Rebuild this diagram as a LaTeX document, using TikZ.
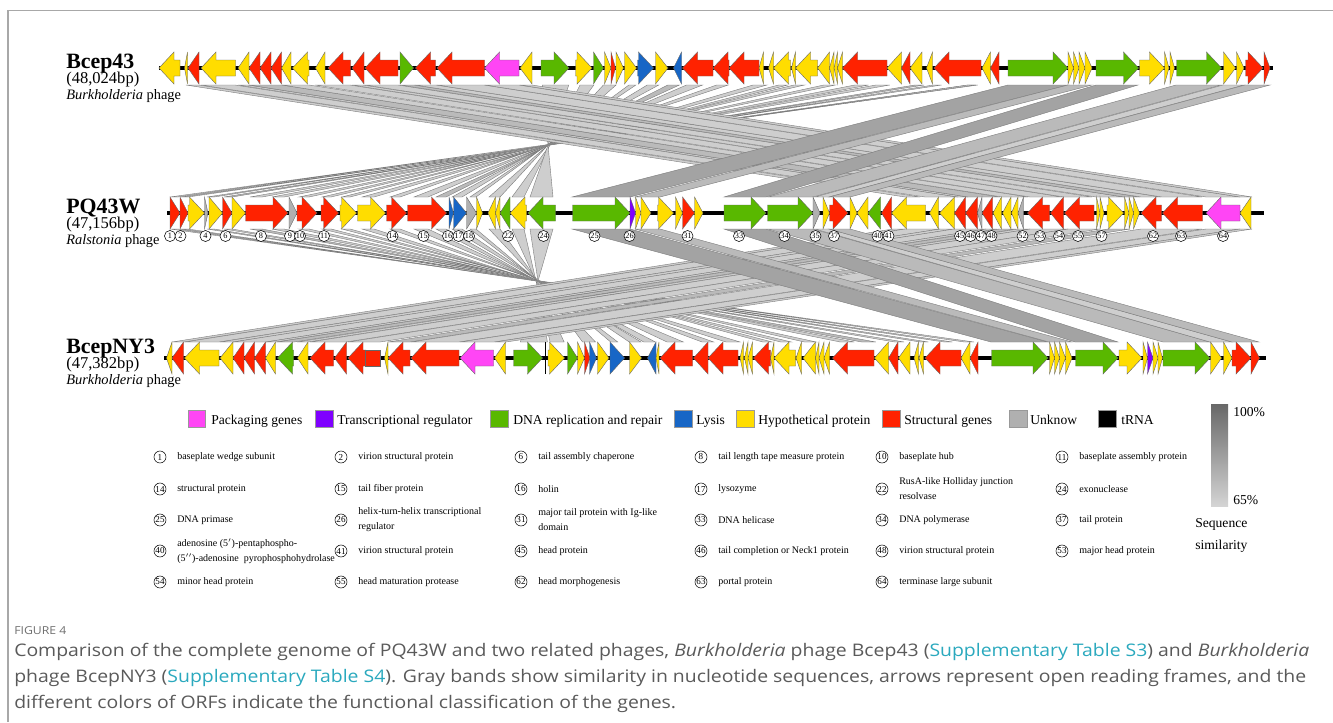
\documentclass[tikz,border=0pt]{standalone}
\usepackage{fontspec}
\setmainfont{Liberation Serif}
\newfontfamily\capfont[FakeStretch=1.12]{Open Sans}
\definecolor{cY}{HTML}{FFDD00}
\definecolor{cR}{HTML}{FF2200}
\definecolor{cG}{HTML}{59B800}
\definecolor{cB}{HTML}{1766C6}
\definecolor{cP}{HTML}{FF45F5}
\definecolor{cV}{HTML}{7F00FF}
\definecolor{cU}{HTML}{B0B0B0}
\definecolor{cK}{HTML}{000000}
\definecolor{bL}{HTML}{CECECE}
\definecolor{bM}{HTML}{BABABA}
\definecolor{bD}{HTML}{A3A3A3}
\definecolor{bEdge}{HTML}{7C7C7C}
\definecolor{capgray}{HTML}{5A5A5A}
\definecolor{figgray}{HTML}{707070}
\definecolor{linkc}{HTML}{2AA9BE}
\definecolor{frameg}{HTML}{A8A8A8}
\definecolor{gtop}{HTML}{686868}
\definecolor{gbot}{HTML}{D4D4D4}
\newcommand\drawgene[5]{%
  \pgfmathsetmacro\glen{#3-#2}%
  \pgfmathsetmacro\ghd{min(15,\glen)}%
  \ifnum#4>0
    \pgfmathsetmacro\gxb{#3-\ghd}%
    \filldraw[genestyle,fill=#5] (#2,#1-8) -- (\gxb,#1-8) -- (\gxb,#1-16) -- (#3,#1) -- (\gxb,#1+16) -- (\gxb,#1+8) -- (#2,#1+8) -- cycle;
  \else
    \pgfmathsetmacro\gxb{#2+\ghd}%
    \filldraw[genestyle,fill=#5] (#3,#1-8) -- (\gxb,#1-8) -- (\gxb,#1-16) -- (#2,#1) -- (\gxb,#1+16) -- (\gxb,#1+8) -- (#3,#1+8) -- cycle;
  \fi}
\begin{document}
\begin{tikzpicture}[x=0.75pt,y=-0.75pt,
  genestyle/.style={draw=black!60, line width=0.3pt, line join=miter},
  band/.style={draw=bEdge, line width=0.3pt},
  backbone/.style={line width=2.6pt, black},
  numc/.style={circle, draw=black, fill=white, line width=0.4pt, minimum size=8.3pt, inner sep=0pt, font=\fontsize{6.2}{6.2}\selectfont},
  tabc/.style={circle, draw=black, fill=white, line width=0.4pt, minimum size=9pt, inner sep=0pt, font=\fontsize{6.8}{6.8}\selectfont},
  legsq/.style={draw=black!40, line width=0.5pt},
  legtxt/.style={anchor=base west, inner sep=0pt, font=\fontsize{10.2}{12}\selectfont},
  tabtxt/.style={anchor=west, inner sep=0pt, align=left, font=\fontsize{7.5}{11.2}\selectfont},
  gname/.style={anchor=base west, inner sep=0pt, font=\bfseries\fontsize{16.4}{18}\selectfont},
  gsize/.style={anchor=base west, inner sep=0pt, font=\fontsize{12.4}{14}\selectfont},
  gspec/.style={anchor=base west, inner sep=0pt, font=\fontsize{10.8}{13}\selectfont},
  captxt/.style={anchor=base west, inner sep=0pt, text=capgray, font=\capfont\fontsize{13}{15}\selectfont}
]
\useasboundingbox (0,0) rectangle (1333,722);
\fill[white] (0,0) rectangle (1333,722);
\draw[frameg, line width=0.9pt] (8,722) -- (8,10.5) -- (1333,10.5);

% ---------------- upper panel bands (Bcep43 y=85 -> PQ43W y=197)
\foreach \pa/\pb/\jt/\sh in {170/178/-3/bL,181/188/2/bL,207/214/0/bL,224/232/1/bM,250/262/-1/bL,272/284/1/bL,299/309/0/bL,322/331/-2/bL,342/350/1/bL,362/374/2/bL,390/400/-1/bL,414/428/0/bL,436/446/1/bM,452/462/0/bL,470/476/-1/bL,489/500/0/bL,512/524/2/bL,530/553/0/bL}{
  \pgfmathsetmacro\ta{548+\jt+1.154*(548+\jt-\pa)}
  \pgfmathsetmacro\tb{548+\jt+1.154*(548+\jt-\pb)}
  \filldraw[band, fill=\sh] (\ta,85) -- (\tb,85) -- (\pb,197) -- (\pa,197) -- cycle;
}
\foreach \xa/\xb/\xc/\xd/\sh in {186/199/905/920/bL,201/235/925/958/bL,238/248/958/968/bL,249/282/968/1000/bM,282/309/1002/1028/bL,315/350/1030/1062/bL,352/363/1064/1092/bL,365/398/1096/1124/bL,400/414/1124/1140/bM,415/436/1141/1161/bL,437/484/1162/1202/bL,485/519/1206/1240/bL,520/532/1240/1252/bL}{
  \filldraw[band, fill=\sh] (\xa,85) -- (\xb,85) -- (\xd,197) -- (\xc,197) -- cycle;
}
\foreach \xa/\xb/\xc/\xd/\sh in {1008/1068/572/630/bD,1068/1092/635/660/bM,1096/1138/724/766/bD,1176/1221/768/813/bM,1223/1244/815/829/bL,1245/1270/829/850/bM}{
  \filldraw[band, fill=\sh] (\xa,85) -- (\xb,85) -- (\xd,197) -- (\xc,197) -- cycle;
}

% ---------------- lower panel bands (PQ43W y=229 -> BcepNY3 y=342)
\foreach \pa/\pb/\jt/\sh in {170/178/2/bL,181/188/-2/bL,207/214/1/bL,224/232/-1/bL,250/262/0/bM,272/284/2/bL,299/309/-1/bL,322/331/0/bL,342/350/2/bL,362/374/-2/bL,390/400/1/bL,414/428/0/bL,436/446/-1/bL,452/462/1/bL,470/476/0/bL,489/500/0/bL,512/524/-2/bL,530/553/0/bL}{
  \pgfmathsetmacro\ta{538+\jt+1.173*(538+\jt-\pa)}
  \pgfmathsetmacro\tb{538+\jt+1.173*(538+\jt-\pb)}
  \filldraw[band, fill=\sh] (\pa,229) -- (\pb,229) -- (\tb,342) -- (\ta,342) -- cycle;
}
\foreach \xa/\xb/\xc/\xd/\sh in {893/905/172/184/bL,905/940/185/219/bL,940/954/220/233/bL,954/986/233/266/bL,986/997/266/276/bL,999/1016/277/294/bM,1018/1030/297/308/bL,1030/1068/310/346/bL,1068/1100/348/380/bL,1108/1130/388/410/bM,1141/1202/411/459/bL,1206/1240/460/494/bL,1240/1252/495/506/bL}{
  \filldraw[band, fill=\sh] (\xa,229) -- (\xb,229) -- (\xd,342) -- (\xc,342) -- cycle;
}
\foreach \xa/\xb/\xc/\xd/\sh in {572/630/991/1048/bD,635/660/1049/1072/bM,724/766/1075/1118/bD,768/813/1163/1210/bM,815/829/1210/1232/bL,829/850/1232/1259/bM}{
  \filldraw[band, fill=\sh] (\xa,229) -- (\xb,229) -- (\xd,342) -- (\xc,342) -- cycle;
}

% ---------------- genome backbones
\draw[backbone] (159,68) -- (1273,68);
\draw[backbone] (167,213) -- (1264,213);
\draw[backbone] (164,358) -- (1266,358);

% ---------------- Bcep43 genes
\foreach \xa/\xb/\dr/\cl in {159/180/-1/cY,184.5/187.5/-1/cY,188/199/-1/cR,201/235.5/-1/cY,238/249/-1/cY,249/260/-1/cR,260/271/-1/cR,271/281.5/-1/cR,281.5/291/-1/cY,292.5/309/-1/cY,315.5/325/-1/cY,328/350.5/-1/cR,352/364/-1/cR,365/398/-1/cR,400/413.5/1/cG,415.5/435.5/-1/cR,437/484.5/-1/cR,484.5/519/-1/cP,520/532/-1/cY,541/569/1/cG,575.5/592/1/cY,593.5/603.5/1/cG,604.5/611/1/cY,611/615.5/1/cR,616/623.5/1/cY,624.5/636.5/1/cY,637.5/653.5/1/cB,655.5/668/1/cY,673.5/681.5/-1/cB,682.5/713/-1/cR,713/729/-1/cR,729/759/-1/cR,759/763.5/-1/cY,768.5/773.5/-1/cY,773.5/790.5/-1/cY,791.5/795.5/-1/cY,795.5/817.5/-1/cY,817.5/829.5/-1/cY,829.5/834/-1/cY,834/837.5/-1/cY,837.5/842.5/-1/cY,842.5/887/-1/cR,887/901.5/-1/cY,901.5/910/-1/cR,910/922/-1/cY,926.5/932.5/-1/cY,934/981/-1/cR,982/990.5/-1/cY,990.5/999/-1/cR,1008/1068/1/cG,1068/1073.5/1/cY,1073.5/1079/1/cY,1079/1085/1/cY,1085/1092/1/cY,1096/1138.5/1/cG,1139.5/1164.5/1/cY,1164.5/1169/1/cY,1170/1174.5/1/cY,1176.5/1221.5/1/cG,1223.5/1235.5/1/cY,1236.5/1244/1/cY,1245.5/1263/1/cR,1264/1270/1/cR}{
  \drawgene{68}{\xa}{\xb}{\dr}{\cl}
}

% ---------------- PQ43W genes
\foreach \xa/\xb/\dr/\cl in {170/180/1/cR,180/188/1/cR,188/204.5/1/cY,204.5/208/1/cU,209/222.5/1/cY,222.5/232/1/cR,232/245.5/1/cY,245.5/288/1/cR,289/297/1/cU,297/317/1/cR,321/338.5/1/cR,340/356.5/1/cY,357.5/385.5/1/cY,386.5/406.5/1/cR,407.5/446.5/1/cR,449/453.5/1/cB,453.5/466.5/1/cB,466.5/476.5/1/cU,476.5/482.5/1/cY,488/495.5/-1/cY,495.5/500/-1/cY,500/510/-1/cG,510/526.5/-1/cY,528/555.5/-1/cG,572.5/630/1/cG,630/635.5/1/cV,635.5/641/1/cY,641/651/1/cY,657.5/673.5/1/cY,675.5/682.5/1/cY,682.5/694.5/1/cR,694.5/703/1/cY,724/766/1/cG,767.5/813/1/cG,813/820/1/cU,823/829.5/1/cY,829.5/848/1/cR,850/857/1/cY,857/868/-1/cY,868/880.5/-1/cG,881.5/891.5/-1/cR,891.5/925.5/-1/cY,929.5/938.5/-1/cY,939.5/954.5/-1/cY,954.5/965.5/-1/cR,965.5/977.5/-1/cR,977.5/982/-1/cU,982/992.5/-1/cR,993/1001.5/-1/cY,1002.5/1011/-1/cY,1011.5/1018/-1/cY,1018/1023.5/-1/cU,1027.5/1049.5/-1/cR,1050.5/1063.5/-1/cR,1064.5/1094/-1/cR,1096.5/1100/1/cY,1100/1104/1/cY,1107/1123.5/1/cY,1124.5/1129/1/cY,1129/1133.5/1/cY,1133.5/1139.5/1/cY,1141/1161.5/-1/cR,1162.5/1202.5/-1/cR,1206/1240/-1/cP,1240/1251/-1/cY}{
  \drawgene{213}{\xa}{\xb}{\dr}{\cl}
}

% ---------------- BcepNY3 genes
\foreach \xa/\xb/\dr/\cl in {166.5/172/-1/cY,172/183.5/-1/cR,184.5/219/-1/cY,220/233/-1/cY,233/244/-1/cR,244/254.5/-1/cR,254.5/265.5/-1/cR,265.5/275.5/-1/cY,277.5/293.5/-1/cG,297.5/308/-1/cY,310/333.5/-1/cR,334.5/346.5/-1/cR,348/366/-1/cR,384.5/388/-1/cY,388/410/-1/cR,411/459/-1/cR,460/493.5/-1/cP,494.5/505.5/-1/cY,513.5/542.5/1/cG,548/564.5/1/cY,567.5/577.5/1/cG,577.5/584.5/1/cY,584.5/590/1/cR,589.5/596.5/1/cB,597.5/609/1/cY,610/624.5/1/cB,629.5/641.5/1/cY,647.5/656/-1/cB,656/659/-1/cY,660/692.5/-1/cR,693.5/708/-1/cR,708/738/-1/cR,740/743.5/-1/cY,744.5/748/-1/cY,748/752.5/-1/cY,753.5/770.5/-1/cR,770.5/774/-1/cY,774/795.5/-1/cY,796/801.5/-1/cY,803/815.5/-1/cY,815.5/819/-1/cY,819/824/-1/cY,824/829.5/-1/cY,832.5/874/-1/cR,874.5/888.5/-1/cY,888.5/898/-1/cR,898.5/910/-1/cY,914/918.5/-1/cY,919/923.5/-1/cY,925/961/-1/cR,961/970/-1/cY,970/978/-1/cR,991.5/1048/1/cG,1049.5/1054.5/1/cY,1054.5/1059.5/1/cY,1059.5/1065.5/1/cY,1065.5/1072/1/cY,1075.5/1118/1/cG,1119/1142/1/cY,1143/1147.5/1/cY,1147.5/1153/1/cV,1153/1158/1/cY,1158/1162.5/1/cY,1163/1210/1/cG,1210.5/1221.5/1/cY,1223.5/1232/1/cY,1232/1251/1/cR,1251/1259.5/1/cR}{
  \drawgene{358}{\xa}{\xb}{\dr}{\cl}
}
\filldraw[genestyle, fill=cR] (365,350) rectangle (380,366);
\draw[black, line width=0.6pt] (545.5,342) -- (545.5,374);

% ---------------- PQ43W gene numbers
\foreach \n/\x in {1/170,2/180.5,4/205.5,6/225.5,8/261,9/290,10/300,11/324,14/392.5,15/423.5,16/448,17/458.5,18/469,22/508,24/543.5,25/594.5,26/629.5,31/687.5,33/739,34/784.5,35/815.5,37/834,40/877.5,41/888.5,45/960,46/970.5,47/981,48/991.5,52/1022.5,53/1040,54/1059,55/1078,57/1101.5,62/1153,63/1181,64/1223}{
  \node[numc] (pq\n) at (\x,236) {\n};
}

% ---------------- genome labels
\node[gname] (nA) at (66,68) {Bcep43};
\node[gsize] (sA) at (66,83.5) {(48,024bp)};
\node[gspec] (hA) at (66,99.5) {\textit{Burkholderia} phage};
\node[gname] (nB) at (66,213) {PQ43W};
\node[gsize] (sB) at (66,228.5) {(47,156bp)};
\node[gspec] (hB) at (66,244.5) {\textit{Ralstonia} phage};
\node[gname] (nC) at (66,353) {BcepNY3};
\node[gsize] (sC) at (66,368.5) {(47,382bp)};
\node[gspec] (hC) at (66,384.5) {\textit{Burkholderia} phage};

% ---------------- legend
\filldraw[legsq, fill=cP] (188,410.5) rectangle (205,427.5);
\node[legtxt] (l1) at (211,424) {Packaging genes};
\filldraw[legsq, fill=cV] (315,410.5) rectangle (333,427.5);
\node[legtxt] (l2) at (337,424) {Transcriptional regulator};
\filldraw[legsq, fill=cG] (490,410.5) rectangle (508,427.5);
\node[legtxt] (l3) at (513,424) {DNA replication and repair};
\filldraw[legsq, fill=cB] (674,410.5) rectangle (692,427.5);
\node[legtxt] (l4) at (696,424) {Lysis};
\filldraw[legsq, fill=cY] (736,410.5) rectangle (754,427.5);
\node[legtxt] (l5) at (758,424) {Hypothetical protein};
\filldraw[legsq, fill=cR] (882,410.5) rectangle (900,427.5);
\node[legtxt] (l6) at (904,424) {Structural genes};
\filldraw[legsq, fill=cU] (1009,410.5) rectangle (1027,427.5);
\node[legtxt] (l7) at (1030,424) {Unknow};
\filldraw[legsq, fill=cK] (1098,410.5) rectangle (1116,427.5);
\node[legtxt] (l8) at (1121,424) {tRNA};

% ---------------- similarity scale
\shade[top color=gtop, bottom color=gbot] (1211,404) rectangle (1228,506);
\node[legtxt] (s100) at (1233,416) {100\%};
\node[legtxt] (s65) at (1233,504.5) {65\%};
\node[legtxt] (sq1) at (1195,527) {Sequence};
\node[legtxt] (sq2) at (1195,549) {similarity};

% ---------------- function table
\foreach \n/\cx/\ry/\tx in {1/160/457/{baseplate wedge subunit},2/341/457/{virion structural protein},6/521/457/{tail assembly chaperone},8/701/457/{tail length tape measure protein},10/882/457/{baseplate hub},11/1062/457/{baseplate assembly protein},
14/160/489/{structural protein},15/341/489/{tail fiber protein},16/521/489/{holin},17/701/489/{lysozyme},22/882/489/{RusA-like Holliday junction\\resolvase},24/1062/489/{exonuclease},
25/160/520/{DNA primase},26/341/520/{helix-turn-helix transcriptional\\regulator},31/521/520/{major tail protein with Ig-like\\domain},33/701/520/{DNA helicase},34/882/520/{DNA polymerase},37/1062/520/{tail protein},
40/160/551/{adenosine (5$'$)-pentaphospho-\\(5$''$)-adenosine\ \ pyrophosphohydrolase},41/341/551/{virion structural protein},45/521/551/{head protein},46/701/551/{tail completion or Neck1 protein},48/882/551/{virion structural protein},53/1062/551/{major head protein},
54/160/582/{minor head protein},55/341/582/{head maturation protease},62/521/582/{head morphogenesis},63/701/582/{portal protein},64/882/582/{terminase large subunit}}{
  \node[tabc] (tc\n) at (\cx,\ry) {\n};
  \node[tabtxt] (tt\n) at (\cx+17,\ry) {\tx};
}

% ---------------- caption
\node[captxt, text=figgray, font=\capfont\fontsize{8.2}{10}\selectfont] (cap0) at (14,634) {FIGURE 4};
\node[captxt] (cap1) at (14,656) {Comparison of the complete genome of PQ43W and two related phages, \textit{Burkholderia} phage Bcep43 (\textcolor{linkc}{Supplementary Table S3}) and \textit{Burkholderia}};
\node[captxt] (cap2) at (14,682) {phage BcepNY3 (\textcolor{linkc}{Supplementary Table S4}). Gray bands show similarity in nucleotide sequences, arrows represent open reading frames, and the};
\node[captxt] (cap3) at (14,708) {different colors of ORFs indicate the functional classification of the genes.};
\end{tikzpicture}
\end{document}
